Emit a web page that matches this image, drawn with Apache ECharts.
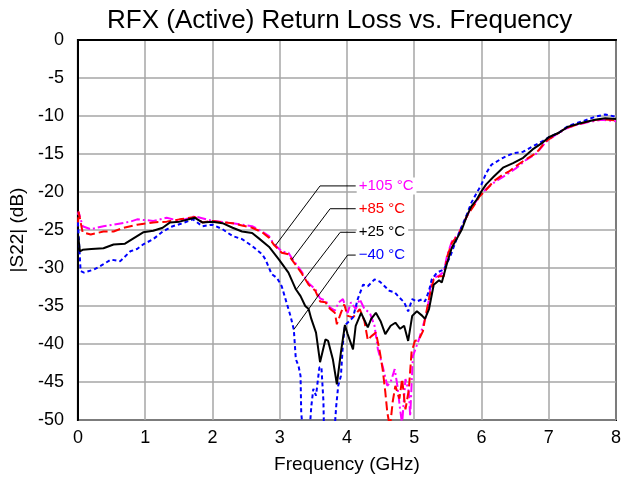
<!DOCTYPE html>
<html>
<head>
<meta charset="utf-8">
<script src="https://cdn.jsdelivr.net/npm/echarts@6/dist/echarts.min.js"></script>
<style>
  html, body { margin: 0; padding: 0; background: #fff; }
  #chart { width: 624px; height: 479px; }
</style>
</head>
<body>
<div id="chart"></div>
<script>
// Readings, frequency in GHz, |S22| in dB
const freq105 = [0, 0.01, 0.07, 0.19, 0.38, 0.53, 0.78, 0.88, 1.12, 1.32, 1.51, 1.74, 2.0, 2.3, 2.59, 2.74, 2.84, 2.91, 3.03, 3.13, 3.18, 3.32, 3.43, 3.53, 3.6, 3.68, 3.75, 3.82, 3.88, 3.94, 4.01, 4.06, 4.13, 4.19, 4.26, 4.34, 4.41, 4.46, 4.53, 4.6, 4.65, 4.71, 4.75, 4.79, 4.82, 4.87, 4.92, 4.94, 4.98, 5.07, 5.13, 5.19, 5.24, 5.29, 5.37, 5.44, 5.49, 5.56, 5.66, 5.74, 5.81, 5.88, 5.97, 6.07, 6.18, 6.32, 6.41, 6.51, 6.66, 6.81, 6.96, 7.1, 7.25, 7.4, 7.59, 7.79, 8.0];
const db105 = [-23.0, -22.6, -24.5, -24.9, -24.5, -24.3, -23.9, -23.6, -23.8, -23.4, -23.8, -23.2, -23.8, -24.1, -24.5, -25.2, -25.8, -26.8, -27.8, -28.0, -28.7, -30.4, -32.0, -32.8, -34.0, -34.3, -35.2, -35.6, -34.5, -34.1, -35.9, -34.5, -35.4, -34.1, -35.4, -35.9, -37.6, -40.7, -42.9, -45.5, -45.0, -43.3, -45.5, -48.6, -50.5, -44.6, -46.3, -49.5, -41.6, -39.4, -37.6, -35.9, -32.6, -31.3, -31.0, -30.5, -28.3, -26.5, -25.5, -24.0, -22.7, -21.8, -20.5, -19.6, -18.8, -18.0, -17.5, -16.9, -15.8, -15.0, -13.4, -12.5, -11.7, -11.2, -10.8, -10.5, -10.7];

const freq85 = [0, 0.01, 0.07, 0.19, 0.38, 0.53, 0.68, 0.88, 1.12, 1.32, 1.51, 1.74, 1.85, 2.0, 2.15, 2.3, 2.44, 2.59, 2.74, 2.84, 2.91, 3.03, 3.13, 3.18, 3.32, 3.43, 3.53, 3.6, 3.68, 3.75, 3.82, 3.85, 3.91, 3.96, 4.01, 4.09, 4.19, 4.26, 4.31, 4.36, 4.43, 4.49, 4.53, 4.57, 4.6, 4.64, 4.68, 4.72, 4.78, 4.82, 4.87, 4.92, 4.96, 5.01, 5.07, 5.13, 5.16, 5.24, 5.29, 5.37, 5.44, 5.49, 5.56, 5.66, 5.74, 5.81, 5.88, 5.97, 6.07, 6.18, 6.32, 6.41, 6.51, 6.66, 6.81, 6.96, 7.1, 7.25, 7.4, 7.59, 7.79, 8.0];
const db85 = [-24.5, -22.6, -25.3, -25.6, -25.2, -25.2, -24.7, -24.3, -24.0, -23.9, -23.6, -23.3, -24.0, -23.8, -24.0, -24.1, -24.4, -24.7, -25.3, -26.0, -26.9, -28.0, -28.2, -28.9, -30.6, -32.2, -33.0, -34.4, -34.5, -35.4, -35.9, -37.4, -35.9, -34.8, -36.3, -36.5, -35.4, -37.0, -39.5, -39.0, -38.5, -41.1, -43.3, -46.3, -49.0, -51.0, -47.6, -45.5, -47.2, -44.6, -48.6, -46.0, -41.1, -39.6, -39.4, -38.3, -36.7, -33.2, -31.5, -31.1, -31.1, -28.5, -26.7, -25.6, -23.9, -22.8, -21.9, -20.6, -19.7, -18.6, -17.7, -17.3, -16.6, -15.7, -14.9, -13.3, -12.5, -11.6, -11.2, -10.7, -10.4, -10.6];

const freq25 = [0, 0.03, 0.07, 0.2, 0.38, 0.53, 0.7, 0.88, 0.97, 1.12, 1.26, 1.37, 1.51, 1.74, 1.85, 2.0, 2.15, 2.3, 2.44, 2.59, 2.69, 2.84, 2.99, 3.13, 3.24, 3.31, 3.38, 3.43, 3.47, 3.54, 3.6, 3.68, 3.72, 3.79, 3.85, 3.91, 3.97, 4.01, 4.09, 4.13, 4.21, 4.31, 4.36, 4.43, 4.5, 4.57, 4.65, 4.72, 4.79, 4.85, 4.91, 4.97, 5.04, 5.12, 5.16, 5.22, 5.29, 5.37, 5.41, 5.49, 5.56, 5.63, 5.71, 5.78, 5.85, 5.93, 6.0, 6.07, 6.18, 6.32, 6.47, 6.62, 6.76, 6.91, 7.0, 7.15, 7.29, 7.5, 7.69, 7.84, 8.0];
const db25 = [-25.5, -27.8, -27.6, -27.5, -27.4, -26.9, -26.8, -25.8, -25.3, -25.1, -24.7, -24.0, -23.9, -23.4, -24.0, -23.9, -24.1, -24.7, -25.2, -25.4, -26.1, -27.2, -28.9, -30.6, -32.8, -33.7, -35.0, -35.4, -36.7, -38.5, -42.4, -39.4, -39.6, -42.0, -45.3, -41.1, -37.5, -38.7, -40.7, -37.6, -35.9, -37.8, -36.7, -35.9, -37.0, -38.7, -37.6, -37.2, -38.0, -37.6, -39.6, -36.3, -35.7, -36.3, -36.7, -35.4, -32.2, -31.6, -31.9, -29.3, -27.3, -26.2, -24.9, -23.2, -21.9, -21.0, -19.9, -19.0, -18.0, -16.8, -16.2, -15.5, -14.4, -13.5, -12.8, -12.2, -11.4, -10.9, -10.5, -10.3, -10.4];

const freq40 = [0, 0.04, 0.09, 0.24, 0.38, 0.49, 0.63, 0.78, 0.88, 0.97, 1.12, 1.26, 1.41, 1.56, 1.71, 1.85, 2.0, 2.15, 2.3, 2.44, 2.59, 2.74, 2.79, 2.88, 2.96, 3.03, 3.1, 3.16, 3.21, 3.24, 3.28, 3.31, 3.32, 3.35, 3.44, 3.47, 3.5, 3.54, 3.59, 3.62, 3.65, 3.66, 3.81, 3.84, 3.87, 3.91, 3.94, 3.97, 4.01, 4.09, 4.16, 4.24, 4.31, 4.41, 4.49, 4.56, 4.63, 4.71, 4.78, 4.85, 4.91, 4.97, 5.04, 5.12, 5.16, 5.22, 5.26, 5.34, 5.44, 5.53, 5.63, 5.71, 5.78, 5.85, 5.93, 6.0, 6.07, 6.15, 6.32, 6.47, 6.62, 6.76, 6.91, 7.0, 7.15, 7.29, 7.5, 7.69, 7.84, 8.0];
const db40 = [-24.0, -30.4, -30.6, -30.2, -29.5, -28.9, -29.1, -27.8, -27.5, -26.9, -26.2, -25.2, -24.5, -24.1, -23.6, -24.5, -24.3, -24.9, -25.8, -26.2, -27.1, -28.2, -28.9, -30.8, -31.3, -32.4, -34.5, -36.3, -38.1, -42.0, -42.9, -44.2, -49.0, -52, -52, -48.2, -45.9, -46.8, -43.1, -43.0, -47.5, -52, -52, -48.2, -45.5, -44.2, -40.0, -37.5, -37.2, -36.5, -34.1, -32.2, -32.4, -31.5, -31.8, -32.4, -33.0, -33.2, -33.9, -34.5, -35.7, -34.1, -34.4, -34.1, -34.4, -33.0, -31.5, -30.6, -30.2, -28.6, -26.2, -24.5, -23.0, -21.4, -20.1, -19.0, -17.5, -16.4, -15.5, -14.9, -14.7, -14.0, -13.3, -12.8, -12.2, -11.3, -10.7, -10.1, -9.8, -10.1];

// Leader-line callouts: curve point, knee point (GHz, dB)
const callouts = [
  { text: '+105 °C', color: '#ff00ff', tip: [2.94, -27.0], knee: [3.60, -19.2] },
  { text: '+85 °C', color: '#ff0000', tip: [3.18, -28.9], knee: [3.75, -22.2] },
  { text: '+25 °C', color: '#000000', tip: [3.24, -32.9], knee: [3.90, -25.3] },
  { text: '\u221240 °C', color: '#0000ff', tip: [3.21, -38.1], knee: [4.01, -28.3] }
];
const calloutTextX = 4.13;

const FONT = 'Liberation Sans, Arial, sans-serif';
const zip = (xs, ys) => xs.map((x, i) => [x, ys[i]]);

const chart = echarts.init(document.getElementById('chart'));

const lineSeries = (name, xs, ys, color, type) => ({
  name,
  type: 'line',
  data: zip(xs, ys),
  showSymbol: false,
  clip: true,
  lineStyle: { color, width: 2, type },
  silent: true,
  animation: false
});

chart.setOption({
  animation: false,
  title: {
    text: 'RFX (Active) Return Loss vs. Frequency',
    left: 102,
    top: 3,
    textStyle: { fontFamily: FONT, fontSize: 26, fontWeight: 'normal', color: '#000' }
  },
  grid: {
    left: 77, right: 5, top: 40, bottom: 58,
    show: true, borderColor: '#000', borderWidth: 2
  },
  xAxis: {
    type: 'value',
    min: 0, max: 8, interval: 1,
    name: 'Frequency (GHz)',
    nameLocation: 'middle',
    nameGap: 35,
    nameTextStyle: { fontFamily: FONT, fontSize: 19, color: '#000' },
    axisLine: { show: true, lineStyle: { color: '#000', width: 2 } },
    axisTick: { show: false },
    axisLabel: { fontFamily: FONT, fontSize: 18, color: '#000', margin: 9 },
    splitLine: { show: true, lineStyle: { color: '#a6a6a6', width: 1.5 } }
  },
  yAxis: {
    type: 'value',
    min: -50, max: 0, interval: 5,
    name: '|S22| (dB)',
    nameLocation: 'middle',
    nameGap: 48,
    nameTextStyle: { fontFamily: FONT, fontSize: 19, color: '#000' },
    axisLine: { show: true, onZero: false, lineStyle: { color: '#000', width: 2 } },
    axisTick: { show: false },
    axisLabel: { fontFamily: FONT, fontSize: 18, color: '#000', margin: 14 },
    splitLine: { show: true, lineStyle: { color: '#a6a6a6', width: 1.5 } }
  },
  series: [
    lineSeries('+105 °C', freq105, db105, '#ff00ff', [9, 3, 2, 3]),
    lineSeries('+85 °C', freq85, db85, '#ff0000', [9, 4]),
    lineSeries('-40 °C', freq40, db40, '#0000ff', [4, 3]),
    lineSeries('+25 °C', freq25, db25, '#000000', 'solid')
  ]
});

// Callout labels with leader lines, placed through the axis scales
function drawCallouts() {
  const elements = [];
  callouts.forEach((c) => {
    const tip = chart.convertToPixel({ gridIndex: 0 }, c.tip);
    const knee = chart.convertToPixel({ gridIndex: 0 }, c.knee);
    const textPt = chart.convertToPixel({ gridIndex: 0 }, [calloutTextX, c.knee[1]]);
    elements.push({
      type: 'polyline',
      shape: { points: [tip, knee, textPt] },
      style: { stroke: '#000', lineWidth: 1, fill: null },
      z: 10
    });
    elements.push({
      type: 'text',
      x: textPt[0] + 1,
      y: textPt[1],
      style: {
        text: c.text,
        fill: c.color,
        font: '15px ' + FONT,
        verticalAlign: 'middle',
        align: 'left',
        backgroundColor: '#fff',
        padding: [1, 3, 1, 2]
      },
      z: 11
    });
  });
  chart.setOption({ graphic: elements });
}
drawCallouts();
</script>
</body>
</html>
